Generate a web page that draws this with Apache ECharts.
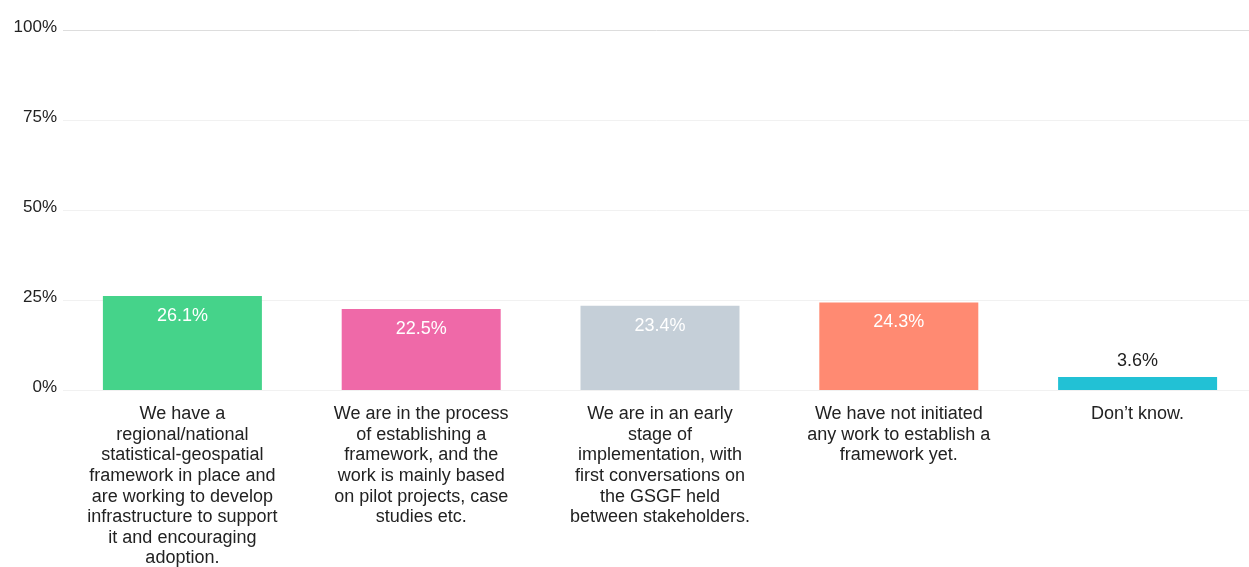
<!DOCTYPE html>
<html>
<head>
<meta charset="utf-8">
<style>
  html, body { margin: 0; padding: 0; background: #ffffff; }
  #chart { width: 1249px; height: 567px; }
</style>
<script src="https://cdn.jsdelivr.net/npm/echarts@6/dist/echarts.min.js"></script>
</head>
<body>
<div id="chart"></div>
<script>
// Survey answers (line breaks follow the wrapped labels under each bar)
const categories = [
  'We have a\nregional/national\nstatistical-geospatial\nframework in place and\nare working to develop\ninfrastructure to support\nit and encouraging\nadoption.',
  'We are in the process\nof establishing a\nframework, and the\nwork is mainly based\non pilot projects, case\nstudies etc.',
  'We are in an early\nstage of\nimplementation, with\nfirst conversations on\nthe GSGF held\nbetween stakeholders.',
  'We have not initiated\nany work to establish a\nframework yet.',
  'Don\u2019t know.'
];
const shares = [26.1, 22.5, 23.4, 24.3, 3.6];
const barColors = ['#45d38a', '#ef69a8', '#c5cfd8', '#ff8a72', '#22c1d5'];
const yTicks = [0, 25, 50, 75, 100];

const font = '"Liberation Sans", Arial, sans-serif';

const chart = echarts.init(document.getElementById('chart'), null, { renderer: 'canvas' });
chart.setOption({
  animation: false,
  backgroundColor: '#ffffff',
  grid: {
    left: 63, top: 30, width: 1194, height: 360,
    containLabel: false,
    outerBoundsMode: 'none'
  },
  xAxis: {
    type: 'category',
    data: categories,
    axisLine: { show: false },
    axisTick: { show: false },
    axisLabel: {
      interval: 0,
      margin: 14,
      color: '#222222',
      fontFamily: font,
      fontSize: 18,
      lineHeight: 20.6,
      align: 'center',
      verticalAlign: 'top'
    }
  },
  yAxis: {
    type: 'value',
    min: 0,
    max: 100,
    interval: 25,
    axisLine: { show: false },
    axisTick: { show: false },
    axisLabel: {
      margin: 6,
      color: '#222222',
      fontFamily: font,
      fontSize: 17,
      // tick labels sit a little above their grid lines
      verticalAlign: 'bottom',
      lineHeight: 6,
      formatter: v => (yTicks.includes(v) ? v + '%' : '')
    },
    splitLine: {
      lineStyle: { color: ['#f1f1f1', '#f1f1f1', '#f1f1f1', '#f1f1f1', '#dddddd'], width: 1 }
    }
  },
  series: [{
    type: 'bar',
    barWidth: 159,
    data: shares.map((v, i) => ({
      value: v,
      itemStyle: { color: barColors[i] },
      label: v < 10
        ? { position: 'top', distance: 7, color: '#222222' }
        : { position: 'insideTop', distance: 11, color: '#ffffff' }
    })),
    label: {
      show: true,
      fontFamily: font,
      fontSize: 18,
      formatter: p => p.value.toFixed(1) + '%'
    }
  }]
});
</script>
</body>
</html>
